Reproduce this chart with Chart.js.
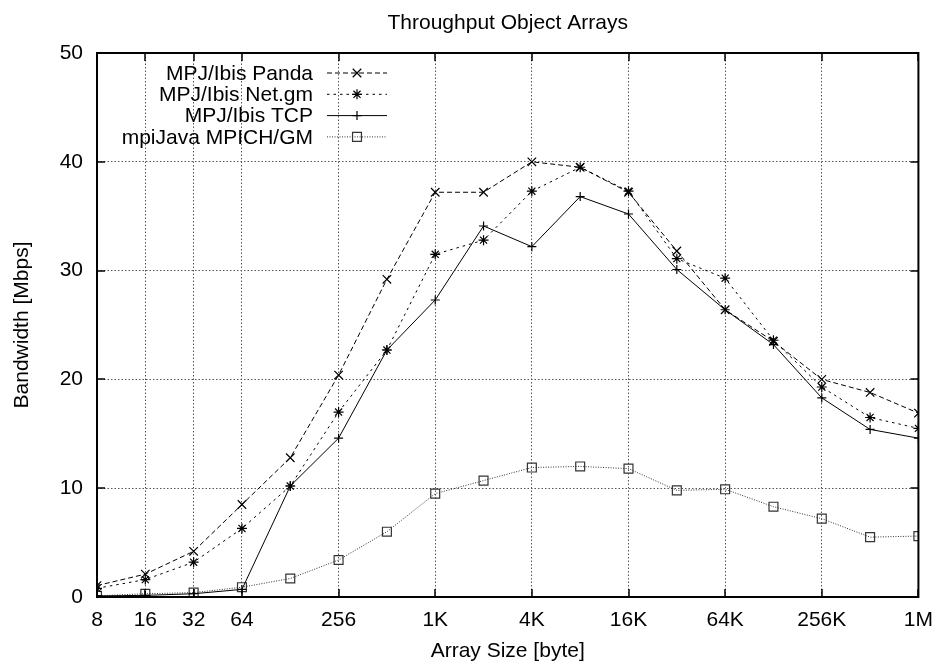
<!DOCTYPE html>
<html>
<head>
<meta charset="utf-8">
<title>Throughput Object Arrays</title>
<script src="https://cdn.jsdelivr.net/npm/chart.js@4.4.0/dist/chart.umd.min.js"></script>
<style>
  html, body { margin: 0; padding: 0; background: #fff; }
</style>
</head>
<body>
<canvas id="chart" width="944" height="666"></canvas>
<script>
// --- data ---
const sizes = [8, 16, 32, 64, 128, 256, 512, 1024, 2048, 4096, 8192, 16384,
               32768, 65536, 131072, 262144, 524288, 1048576];

const pandaMbps   = [1.05, 2.1, 4.2, 8.5, 12.8, 20.4, 29.2, 37.2, 37.2, 40.0, 39.5, 37.2, 31.8, 26.4, 23.5, 20.0, 18.8, 16.9];
const netgmMbps   = [0.8, 1.6, 3.2, 6.3, 10.2, 17.0, 22.7, 31.5, 32.8, 37.3, 39.5, 37.3, 31.1, 29.3, 23.6, 19.3, 16.5, 15.5];
const tcpMbps     = [0.1, 0.15, 0.3, 0.7, 10.2, 14.6, 22.7, 27.3, 34.1, 32.2, 36.8, 35.2, 30.1, 26.4, 23.2, 18.3, 15.4, 14.6];
const mpiJavaMbps = [0.1, 0.3, 0.4, 0.9, 1.7, 3.4, 6.0, 9.5, 10.7, 11.9, 12.0, 11.8, 9.8, 9.9, 8.3, 7.2, 5.5, 5.6];

const seriesNames = ["MPJ/Ibis Panda", "MPJ/Ibis Net.gm", "MPJ/Ibis TCP", "mpiJava MPICH/GM"];

const xTicks = [8, 16, 32, 64, 256, 1024, 4096, 16384, 65536, 262144, 1048576];
const xTickLabels = ["8", "16", "32", "64", "256", "1K", "4K", "16K", "64K", "256K", "1M"];
const yTicks = [0, 10, 20, 30, 40, 50];

const chartTitle = "Throughput Object Arrays";
const FONT = "'Liberation Sans', Arial, Helvetica, sans-serif";

function pts(values) {
  return sizes.map((s, i) => ({ x: s, y: values[i] }));
}

function lineSet(label, values, dash, style, radius, color) {
  return {
    label,
    data: pts(values),
    borderColor: color,
    borderWidth: 1,
    borderDash: dash,
    pointStyle: style,
    pointRadius: radius,
    pointBorderColor: color,
    pointBackgroundColor: "rgba(0,0,0,0)",
    pointBorderWidth: 1.2,
    tension: 0,
    fill: false
  };
}

// box + inward tick marks, gnuplot style; title centred over the plot box
const frame = {
  id: "frame",
  afterDraw(chart) {
    const { ctx, chartArea: a, scales } = chart;
    ctx.save();
    ctx.strokeStyle = "#000";
    ctx.lineWidth = 2;
    ctx.setLineDash([]);
    ctx.strokeRect(a.left, a.top, a.right - a.left, a.bottom - a.top);
    ctx.lineWidth = 1.5;
    ctx.beginPath();
    xTicks.forEach(v => {
      const x = Math.round(scales.x.getPixelForValue(v));
      ctx.moveTo(x, a.bottom); ctx.lineTo(x, a.bottom - 8);
      ctx.moveTo(x, a.top); ctx.lineTo(x, a.top + 8);
    });
    yTicks.forEach(v => {
      const y = Math.round(scales.y.getPixelForValue(v));
      ctx.moveTo(a.left, y); ctx.lineTo(a.left + 8, y);
      ctx.moveTo(a.right, y); ctx.lineTo(a.right - 8, y);
    });
    ctx.stroke();

    ctx.fillStyle = "#000";
    ctx.font = "21px " + FONT;
    ctx.textAlign = "center";
    ctx.textBaseline = "middle";
    ctx.fillText(chartTitle, (a.left + a.right) / 2, 23);
    ctx.restore();
  }
};

// key inside top-left: text right-aligned, sample line with marker
const keyBox = {
  id: "keyBox",
  afterDatasetsDraw(chart) {
    const { ctx, chartArea: a } = chart;
    const textRight = a.left + 216;
    const lineL = a.left + 230, lineR = a.left + 290;
    ctx.save();
    ctx.font = "21px " + FONT;
    ctx.textAlign = "right";
    ctx.textBaseline = "middle";
    chart.data.datasets.forEach((ds, i) => {
      const y = a.top + 20 + i * 21.3;
      ctx.fillStyle = "#000";
      ctx.fillText(ds.label, textRight, y + 1);
      ctx.strokeStyle = ds.borderColor;
      ctx.lineWidth = 1;
      ctx.setLineDash(ds.borderDash);
      ctx.beginPath();
      ctx.moveTo(lineL, y);
      ctx.lineTo(lineR, y);
      ctx.stroke();
      ctx.setLineDash([]);
      ctx.fillStyle = "rgba(0,0,0,0)";
      ctx.lineWidth = 1.2;
      Chart.helpers.drawPoint(ctx, {
        pointStyle: ds.pointStyle, radius: ds.pointRadius, borderWidth: 1.2, rotation: 0
      }, (lineL + lineR) / 2, y);
    });
    ctx.restore();
  }
};

new Chart(document.getElementById("chart").getContext("2d"), {
  type: "line",
  data: {
    datasets: [
      lineSet(seriesNames[0], pandaMbps, [5, 3], "crossRot", 6, "#000"),
      lineSet(seriesNames[1], netgmMbps, [2.5, 4], "star", 5, "#000"),
      lineSet(seriesNames[2], tcpMbps, [], "cross", 4.5, "#000"),
      lineSet(seriesNames[3], mpiJavaMbps, [1, 1.5], "rect", 6.3, "#333")
    ]
  },
  options: {
    responsive: false,
    animation: false,
    layout: { padding: { left: 0, right: 19, top: 53, bottom: 0 } },
    plugins: {
      legend: { display: false },
      tooltip: { enabled: false },
      title: { display: false }
    },
    scales: {
      x: {
        type: "logarithmic",
        min: 8,
        max: 1048576,
        afterBuildTicks(scale) {
          scale.ticks = xTicks.map(v => ({ value: v }));
        },
        afterFit(scale) { scale.height = 69; },
        ticks: {
          autoSkip: false,
          maxRotation: 0,
          color: "#000",
          padding: 11,
          font: { family: FONT, size: 21 },
          callback: (v, i) => xTickLabels[i]
        },
        grid: { color: "#555", drawTicks: false, tickLength: 0 },
        border: { display: false, dash: [1.5, 2] },
        title: {
          display: true,
          text: "Array Size [byte]",
          color: "#000",
          font: { family: FONT, size: 21 },
          padding: { top: 0, bottom: 2.4 }
        }
      },
      y: {
        min: 0,
        max: 50,
        afterBuildTicks(scale) {
          scale.ticks = yTicks.map(v => ({ value: v }));
        },
        afterFit(scale) { scale.width = 97; },
        ticks: {
          color: "#000",
          padding: 14,
          font: { family: FONT, size: 21 }
        },
        grid: { color: "#555", drawTicks: false, tickLength: 0 },
        border: { display: false, dash: [1.5, 2] },
        title: {
          display: true,
          text: "Bandwidth [Mbps]",
          color: "#000",
          font: { family: FONT, size: 21 },
          padding: { top: 9.4, bottom: 0 }
        }
      }
    }
  },
  plugins: [frame, keyBox]
});
</script>
</body>
</html>
